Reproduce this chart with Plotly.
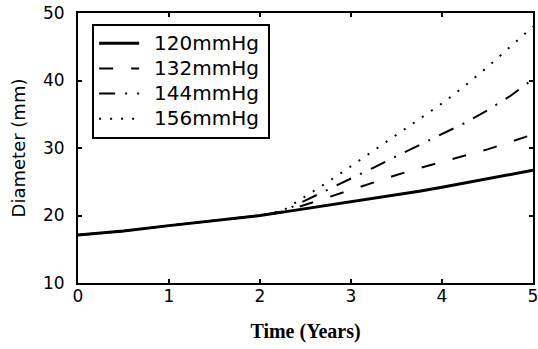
import plotly.graph_objects as go

time_years = [0, 0.5, 1, 1.5, 2, 2.25, 2.5, 2.75, 3, 3.25, 3.5, 3.75, 4, 4.25, 4.5, 4.75, 5]
d_120 = [17.1, 17.7, 18.5, 19.2, 20.0, 20.5, 21.0, 21.5, 22.0, 22.5, 23.0, 23.6, 24.2, 24.8, 25.4, 26.0, 26.7]
d_132 = [17.1, 17.7, 18.5, 19.2, 20.0, 20.5, 21.6, 22.7, 23.9, 25.0, 26.0, 27.0, 27.9, 28.8, 29.8, 30.9, 32.0]
d_144 = [17.1, 17.7, 18.5, 19.2, 20.0, 20.6, 22.2, 23.8, 25.5, 27.1, 28.8, 30.4, 32.1, 33.7, 35.6, 37.7, 40.2]
d_156 = [17.1, 17.7, 18.5, 19.2, 20.0, 20.7, 22.8, 25.0, 27.3, 29.6, 32.0, 34.3, 36.6, 39.2, 42.0, 45.0, 48.0]
series_names = ["120mmHg", "132mmHg", "144mmHg", "156mmHg"]
x_ticks = [0, 1, 2, 3, 4, 5]
y_ticks = [10, 20, 30, 40, 50]

styles = [
    dict(width=3, dash="solid"),
    dict(width=2, dash="14px,18px"),
    dict(width=2, dash="16px,10px,2px,10px"),
    dict(width=2, dash="2px,9px"),
]

SANS = "DejaVu Sans"
SERIF = "Liberation Serif, Times New Roman, serif"

fig = go.Figure()
for name, ys, st in zip(series_names, [d_120, d_132, d_144, d_156], styles):
    label = '<span style="font-size:20px">\u2002' + name + "\u2009</span>"
    fig.add_trace(go.Scatter(x=time_years, y=ys, mode="lines", name=label,
                             line=dict(color="black", width=st["width"], dash=st["dash"])))

axis_common = dict(showgrid=False, zeroline=False, showline=True, linecolor="black", linewidth=2,
                   mirror="allticks", ticks="inside", ticklen=4, tickwidth=2, tickcolor="black",
                   automargin=False, ticklabeloverflow="allow",
                   tickfont=dict(family=SANS, size=17, color="black"))

fig.update_xaxes(range=[0, 5], tickvals=x_ticks, ticktext=[str(v) for v in x_ticks],
                 ticklabelstandoff=-3,
                 title=dict(text="<b>Time (Years)</b>", standoff=19,
                            font=dict(family=SERIF, size=20, color="black")),
                 **axis_common)
fig.update_yaxes(range=[10, 50], tickvals=y_ticks, ticktext=[str(v) for v in y_ticks],
                 ticklabelstandoff=8,
                 title=dict(text="Diameter (mm)", standoff=13,
                            font=dict(family=SANS, size=18, color="black")),
                 **axis_common)

fig.update_layout(
    width=538, height=349,
    margin=dict(l=78, r=5, t=13, b=66),
    paper_bgcolor="white", plot_bgcolor="white",
    legend=dict(x=0.031, y=0.96, xanchor="left", yanchor="top",
                bgcolor="white", bordercolor="black", borderwidth=2,
                font=dict(family=SANS, size=17, color="black"),
                itemwidth=40, tracegroupgap=0),
)

fig.write_html("out.html", config={"displayModeBar": False},
               post_script="document.body.style.margin='0';")
